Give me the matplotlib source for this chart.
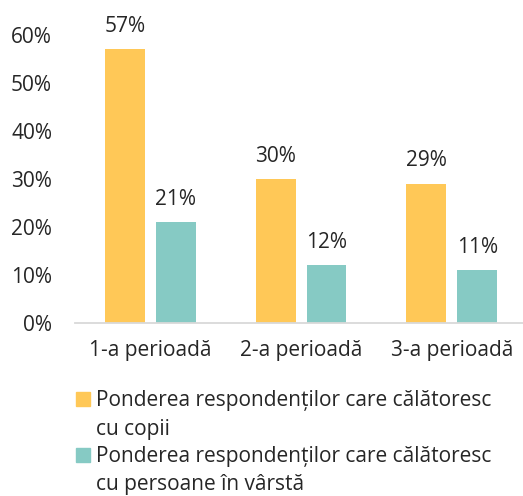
import matplotlib
matplotlib.use("Agg")
import matplotlib.pyplot as plt
from matplotlib.patches import Rectangle
import numpy as np

categories = ["1-a perioadă", "2-a perioadă", "3-a perioadă"]
series_lines = [["Ponderea respondenților care călătoresc", "cu copii"],
                ["Ponderea respondenților care călătoresc", "cu persoane în vârstă"]]
copii = [57, 30, 29]
varstnici = [21, 12, 11]
yticks = [0, 10, 20, 30, 40, 50, 60]
colors = ["#FFC857", "#86CAC4"]
text_color = "#262626"

plt.rcParams['font.family'] = ['Open Sans', 'DejaVu Sans']
FS = 15

W, H = 523, 496
fig = plt.figure(figsize=(W / 100, H / 100), dpi=100)
ax = fig.add_axes([75 / W, (H - 323) / H, (523 - 75) / W, (323 - 35) / H])

x = np.arange(len(categories))
bw = 0.265
off = 0.169
b1 = ax.bar(x - off, copii, bw, color=colors[0])
b2 = ax.bar(x + off, varstnici, bw, color=colors[1])
for bars, vals in ((b1, copii), (b2, varstnici)):
    for r, v in zip(bars, vals):
        ax.annotate(f"{v}%", (r.get_x() + r.get_width() / 2, v),
                    xytext=(0, 16.5), textcoords="offset points",
                    ha="center", va="center", fontsize=FS, color=text_color,
                    annotation_clip=False)

ax.set_xlim(-0.5, 2.473)
ax.set_ylim(0, 60)
ax.set_yticks(yticks)
ax.set_yticklabels([f"{t}%" for t in yticks])
ax.set_xticks(x)
ax.set_xticklabels(categories)
ax.tick_params(axis="both", length=0, labelsize=FS, colors=text_color)
ax.tick_params(axis="y", pad=16.5)
ax.tick_params(axis="x", pad=12)
for s in ("top", "right", "left"):
    ax.spines[s].set_visible(False)
ax.spines["bottom"].set_color("#D9D9D9")
ax.spines["bottom"].set_linewidth(1.3)

# legend: square aligned with first line of each two-line label
baselines = [[406, 435], [462, 490]]
for lines, c, bl in zip(series_lines, colors, baselines):
    fig.patches.append(Rectangle((76 / W, (H - bl[0]) / H), 14 / W, 14 / H,
                                 transform=fig.transFigure, color=c))
    for txt, yb in zip(lines, bl):
        fig.text(95.5 / W, (H - yb) / H, txt, ha="left", va="baseline",
                 fontsize=FS, color=text_color)

fig.savefig("out.png", dpi=100)
